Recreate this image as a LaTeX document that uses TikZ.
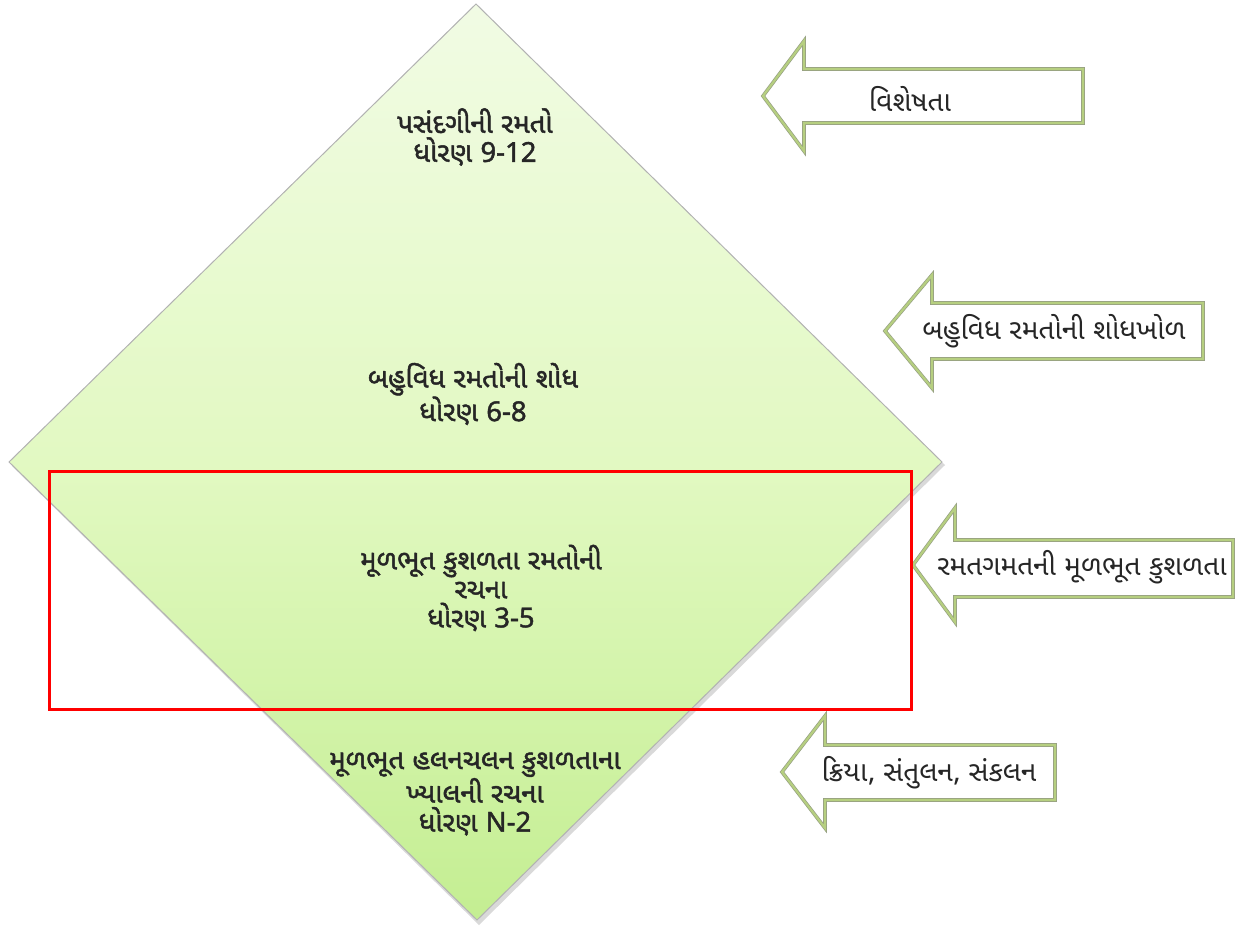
\documentclass[tikz,border=0pt]{standalone}
\usepackage{fontspec}
\newfontfamily\guj[Script=Gujarati,AutoFakeBold=1.6]{Noto Sans Gujarati UI}
\newfontfamily\latin[AutoFakeBold=1.6]{Noto Sans}
\definecolor{diamtop}{RGB}{241,251,228}
\definecolor{diammid}{RGB}{226,249,194}
\definecolor{diambot}{RGB}{196,238,146}
\definecolor{arrowedge}{RGB}{150,160,130}
\definecolor{arrowband}{RGB}{182,207,128}

\tikzset{every picture/.style={line width=0.75pt}}
\tikzset{
  stage/.style={align=center, text=black!85, inner sep=0.75pt,
    font=\guj\bfseries\fontsize{27.5}{29}\selectfont},
  tag/.style={text=black!85, inner sep=0.75pt, font=\guj\fontsize{28}{30}\selectfont},
  leftarrow/.style={draw=arrowedge, double=arrowband, double distance=2.2pt,
    line width=0.7pt, fill=white, line join=miter}
}

\begin{document}
\begin{tikzpicture}[x=1pt,y=1pt,yscale=-1]
\useasboundingbox (0,0) rectangle (1240,928);

%Shape: Diamond shadow
\fill [black!25, opacity=0.6] (478,8) -- (945,465) -- (479,925) -- (12,466) -- cycle ;
%Shape: Diamond
\draw [draw=black!30, line width=1, top color=diamtop, bottom color=diambot, middle color=diammid]  (476,4) -- (942,462) -- (477,920) -- (9,462) -- cycle ;

%Shape: Left Arrow
\draw [leftarrow]  (763,96) -- (804,41) -- (804,69) -- (1083,69) -- (1083,123) -- (804,123) -- (804,151) -- cycle ;
%Shape: Left Arrow
\draw [leftarrow]  (885,331) -- (932,275) -- (932,303) -- (1203,303) -- (1203,359) -- (932,359) -- (932,388) -- cycle ;
%Shape: Left Arrow
\draw [leftarrow]  (913,565) -- (955,508) -- (955,540) -- (1233,540) -- (1233,597) -- (955,597) -- (955,622) -- cycle ;
%Shape: Left Arrow
\draw [leftarrow]  (782,772) -- (825,716) -- (825,745) -- (1055,745) -- (1055,800) -- (825,800) -- (825,828) -- cycle ;

% Text Node
\node [stage] (selective) at (475,137) {પસંદગીની રમતો\\ધોરણ {\latin 9-12}};
% Text Node
\node [stage] (multiple) at (473,394) {બહુવિધ રમતોની શોધ\\ધોરણ {\latin 6-8}};
% Text Node
\node [stage] (basicgames) at (481,588) {મૂળભૂત કુશળતા રમતોની\\રચના\\ધોરણ {\latin 3-5}};
% Text Node
\node [stage] (movement) at (475,794) {મૂળભૂત હલનચલન કુશળતાના\\ખ્યાલની રચના\\ધોરણ {\latin N-2}};

% Text Node
\node [tag] (feature) at (910,99) {વિશેષતા};
% Text Node
\node [tag] (explore) at (1054,331) {બહુવિધ રમતોની શોધખોળ};
% Text Node
\node [tag] (sportskill) at (1082,567) {રમતગમતની મૂળભૂત કુશળતા};
% Text Node
\node [tag] (balance) at (929,773) {ક્રિયા, સંતુલન, સંકલન};

%Shape: Rectangle
\draw [color=red, line width=3]  (49,471) rectangle (911,709) ;
\end{tikzpicture}
\end{document}
